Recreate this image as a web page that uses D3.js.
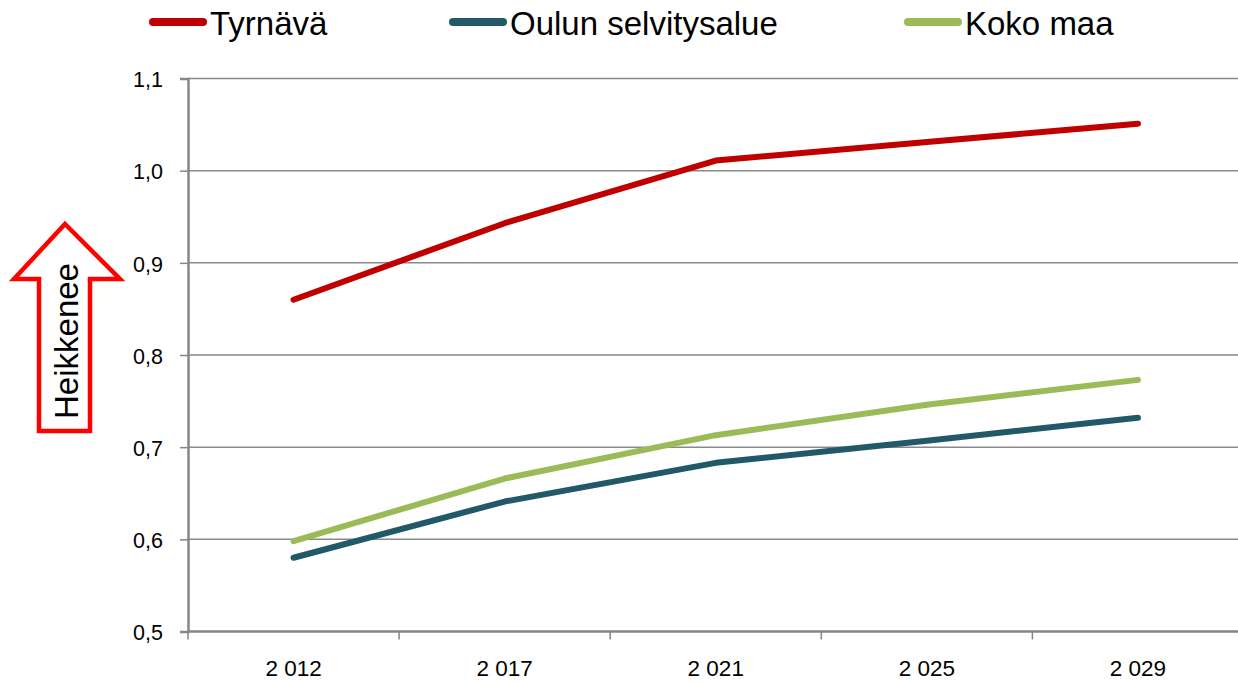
<!DOCTYPE html>
<html><head><meta charset="utf-8">
<script src="https://cdn.jsdelivr.net/npm/d3@7"></script>
<style>body{margin:0;background:#fff}svg{display:block}</style>
</head><body>
<svg id="c" width="1238" height="682"></svg>
<script>
const categories = ["2 012", "2 017", "2 021", "2 025", "2 029"];
const seriesNames = ["Tyrnävä", "Oulun selvitysalue", "Koko maa"];
const tyrnava = [0.860, 0.943, 1.011, 1.031, 1.051];
const oulu = [0.580, 0.641, 0.683, 0.707, 0.732];
const kokoMaa = [0.598, 0.666, 0.713, 0.746, 0.773];
const yTicks = [0.5, 0.6, 0.7, 0.8, 0.9, 1.0, 1.1];
const colors = ["#c00000", "#215968", "#9bbb59"];
const arrowLabel = "Heikkenee";

(function () {
const series = [tyrnava, oulu, kokoMaa];
const svg = d3.select("#c");
const font = "'Liberation Sans', Arial, sans-serif";
const pL = 188, pR = 1243.5, pT = 78.5, pB = 631.5;

const x = d3.scaleBand().domain(categories).range([pL, pR]).padding(0);
const y = d3.scaleLinear().domain([0.5, 1.1]).range([pB, pT]);
const fmt = v => d3.format(".1f")(v).replace(".", ",");

// gridlines
svg.append("g").selectAll("line").data(yTicks.slice(1)).join("line")
  .attr("x1", pL).attr("x2", 1238).attr("y1", d => y(d)).attr("y2", d => y(d))
  .attr("stroke", "#898989").attr("stroke-width", 1.5);

// y axis
const ya = svg.append("g").attr("transform", `translate(${pL},0)`)
  .call(d3.axisLeft(y).tickValues(yTicks).tickFormat(fmt).tickSize(8).tickPadding(17));
ya.select(".domain").attr("stroke", "#868686").attr("stroke-width", 2.5);
ya.selectAll(".tick line").attr("stroke", "#868686").attr("stroke-width", 1.5);
ya.selectAll(".tick text").attr("font-family", font).attr("font-size", 21.5).attr("fill", "#000").attr("dy", "0.38em");

// x axis
const xa = svg.append("g").attr("transform", `translate(0,${pB})`)
  .call(d3.axisBottom(x).tickSize(0).tickPadding(29));
xa.select(".domain").remove();
xa.selectAll(".tick text").attr("font-family", font).attr("font-size", 22.5).attr("fill", "#000");
svg.append("line").attr("x1", pL).attr("x2", 1238).attr("y1", pB).attr("y2", pB)
  .attr("stroke", "#868686").attr("stroke-width", 2.5);
const edges = categories.map(c => x(c));
svg.append("g").selectAll("line").data(edges).join("line")
  .attr("x1", d => d).attr("x2", d => d).attr("y1", pB).attr("y2", pB + 8)
  .attr("stroke", "#868686").attr("stroke-width", 1.5);

// lines
const line = d3.line().x((d, i) => x(categories[i]) + x.bandwidth() / 2).y(d => y(d));
svg.append("g").selectAll("path").data(series).join("path")
  .attr("d", d => line(d)).attr("fill", "none")
  .attr("stroke", (d, i) => colors[i]).attr("stroke-width", 6)
  .attr("stroke-linecap", "round").attr("stroke-linejoin", "round");

// legend
const legX = [150, 450, 905];
const lg = svg.append("g").selectAll("g").data(seriesNames).join("g")
  .attr("transform", (d, i) => `translate(${legX[i]},22)`);
lg.append("line").attr("x1", 3).attr("x2", 53).attr("y1", 0).attr("y2", 0)
  .attr("stroke", (d, i) => colors[i]).attr("stroke-width", 8).attr("stroke-linecap", "round");
lg.append("text").attr("x", 60).attr("y", 13).text(d => d)
  .attr("font-family", font).attr("font-size", 33).attr("fill", "#000");

// arrow annotation
const ag = svg.append("g");
ag.append("path")
  .attr("d", "M65,224 L120,279 L90,279 L90,431 L39,431 L39,279 L14,279 Z")
  .attr("fill", "#fff").attr("stroke", "#ff0000").attr("stroke-width", 4.5);
ag.append("text").attr("transform", "translate(78,341) rotate(-90)")
  .attr("text-anchor", "middle").text(arrowLabel)
  .attr("font-family", font).attr("font-size", 33).attr("fill", "#000");
})();
</script>
</body></html>
